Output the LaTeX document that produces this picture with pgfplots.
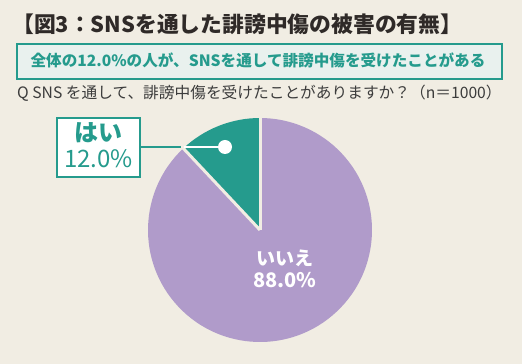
\documentclass[border=0pt]{standalone}
\usepackage{pgfplots}
\pgfplotsset{compat=1.18}
\usepackage{fontspec}
\setmainfont{Noto Sans CJK JP}
\definecolor{bgc}{HTML}{F1EDE3}
\definecolor{purp}{HTML}{B09BCA}
\definecolor{tealc}{HTML}{259B8D}
\definecolor{titlec}{HTML}{2F2A28}
\definecolor{qc}{HTML}{3C3C3C}
\definecolor{boxf}{HTML}{E9F1EE}
\begin{document}
\begin{tikzpicture}[x=1pt,y=1pt]
\fill[bgc] (0,0) rectangle (522,364);
\useasboundingbox (0,0) rectangle (522,364);
% title
\node[anchor=base west,inner sep=0,text=titlec] at (12,331) {\fontsize{21.8}{21.8}\selectfont\bfseries 【図3：SNSを通した誹謗中傷の被害の有無】};
% highlight box
\draw[tealc,line width=2pt,fill=boxf] (17,285) rectangle (502,320);
\node[anchor=base,inner sep=0,text=tealc] at (258,297) {\fontsize{15.6}{15.6}\selectfont\bfseries 全体の12.0\%の人が、SNSを通して誹謗中傷を受けたことがある};
% question
\node[anchor=base west,inner sep=0,text=qc] at (17,265) {\fontsize{15.7}{15.7}\selectfont Q SNS を通して、誹謗中傷を受けたことがありますか？（n＝1000）};
\begin{axis}[x=1pt,y=1pt,xmin=-130,xmax=130,ymin=-130,ymax=130,hide axis,clip=false,
  at={(260,134)},anchor=center,scale only axis]
% pie values (percent): はい 12.0, いいえ 88.0
\def\va{12.0}
\def\vb{88.0}
\fill[tealc] (axis cs:0,0) -- (axis cs:0,112) arc[start angle=90, delta angle=\va*3.6, radius=112pt] -- cycle;
\fill[purp] (axis cs:0,0) -- (axis cs:{112*cos(90+\va*3.6)},{112*sin(90+\va*3.6)}) arc[start angle=90+\va*3.6, delta angle=\vb*3.6, radius=112pt] -- cycle;
\draw[bgc,line width=3pt] (axis cs:0,0) -- (axis cs:0,113);
\draw[bgc,line width=3pt] (axis cs:0,0) -- (axis cs:{113*cos(90+\va*3.6)},{113*sin(90+\va*3.6)});
% leader line and dot
\draw[tealc,line width=1.6pt] (axis cs:-120,83) -- (axis cs:-79,83);
\draw[white,line width=1.6pt] (axis cs:-76,83) -- (axis cs:-35,83);
\fill[white] (axis cs:-35,83) circle[radius=7pt];
\end{axis}
% label box はい
\draw[tealc,line width=2pt,fill=white] (57,187) rectangle (140,246);
\node[anchor=base,inner sep=0,text=tealc] at (98.5,222) {\fontsize{24}{24}\selectfont\bfseries はい};
\node[anchor=base,inner sep=0,text=tealc] at (98.5,196) {\fontsize{24}{24}\selectfont 12.0\%};
% いいえ label
\node[anchor=base,inner sep=0,text=white] at (285,98) {\fontsize{19}{19}\selectfont\bfseries いいえ};
\node[anchor=base,inner sep=0,text=white] at (285,76) {\fontsize{20}{20}\selectfont\bfseries 88.0\%};
\end{tikzpicture}
\end{document}
